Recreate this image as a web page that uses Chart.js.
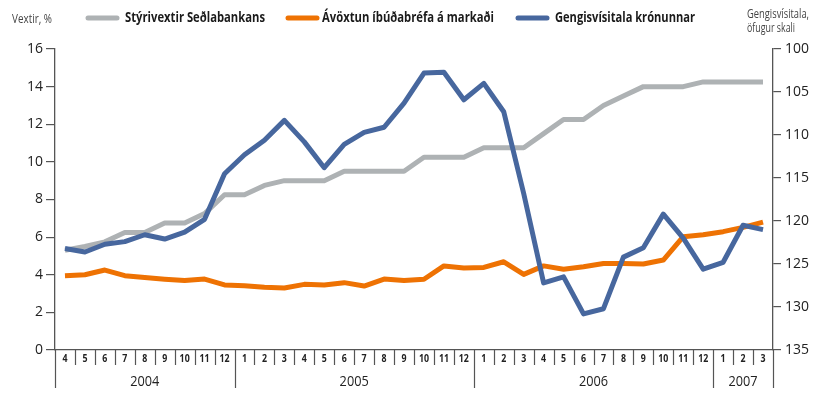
<!DOCTYPE html>
<html>
<head>
<meta charset="utf-8">
<script src="https://cdn.jsdelivr.net/npm/chart.js@4"></script>
<style>
html,body{margin:0;padding:0;background:#fff;}
#wrap{width:813px;height:410px;position:relative;}
</style>
</head>
<body>
<div id="wrap"><canvas id="c" width="813" height="410"></canvas></div>
<script>
// ---- Data ----
const months = ['4','5','6','7','8','9','10','11','12',
  '1','2','3','4','5','6','7','8','9','10','11','12',
  '1','2','3','4','5','6','7','8','9','10','11','12',
  '1','2','3'];
const years = ['2004','2005','2006','2007'];
const yearStart = [0, 9, 21, 33];

const policyRate = [5.3,5.5,5.75,6.25,6.25,6.75,6.75,7.25,8.25,
  8.25,8.75,9.0,9.0,9.0,9.5,9.5,9.5,9.5,10.25,10.25,10.25,
  10.75,10.75,10.75,11.5,12.25,12.25,13.0,13.5,14.0,14.0,14.0,14.25,
  14.25,14.25,14.25];
const bondYield = [3.95,4.0,4.25,3.95,3.85,3.76,3.69,3.77,3.46,
  3.42,3.33,3.30,3.49,3.46,3.58,3.40,3.77,3.69,3.76,4.47,4.36,
  4.39,4.69,4.02,4.47,4.29,4.43,4.6,4.6,4.57,4.78,6.02,6.13,
  6.29,6.52,6.80];
const exchangeIndex = [123.2,123.6,122.7,122.4,121.6,122.1,121.3,119.8,114.5,
  112.3,110.6,108.3,110.8,113.8,111.1,109.7,109.1,106.3,102.8,102.7,105.9,
  104.0,107.3,116.8,127.2,126.5,130.8,130.2,124.2,123.1,119.2,122.0,125.6,
  124.8,120.5,121.0];

const seriesNames = ['Stýrivextir Seðlabankans','Ávöxtun íbúðabréfa á markaði','Gengisvísitala krónunnar'];
const leftTitle = 'Vextir, %';
const rightTitle = ['Gengisvísitala,','öfugur skali'];

const GREY = '#aeb2b4', ORANGE = '#ee7203', BLUE = '#47679e';
const AXIS = '#555555';
const FONT = '"Open Sans","Liberation Sans",sans-serif';

// draw text squeezed horizontally to a given width (condensed look)
function fitText(ctx, text, x, y, width) {
  const w = ctx.measureText(text).width;
  const s = Math.min(1, width / w);
  ctx.save();
  ctx.translate(x, y);
  ctx.scale(s, 1);
  ctx.fillText(text, 0, 0);
  ctx.restore();
}
function condCenter(ctx, text, x, y, squeeze) {
  ctx.save();
  ctx.translate(x, y);
  ctx.scale(squeeze, 1);
  ctx.textAlign = 'center';
  ctx.fillText(text, 0, 0);
  ctx.restore();
}

const decor = {
  id: 'decor',
  afterDraw(chart) {
    const ctx = chart.ctx;
    const xs = chart.scales.x;
    const area = chart.chartArea;
    const n = months.length;
    const step = (xs.getPixelForValue(1) - xs.getPixelForValue(0));
    const edge = i => xs.getPixelForValue(i) - step / 2;
    ctx.save();
    ctx.strokeStyle = AXIS;
    ctx.lineWidth = 1.2;
    for (let i = 0; i <= n; i++) {
      const x = Math.round(edge(i)) + 0.5;
      const isYear = i === 0 || i === n || yearStart.includes(i);
      ctx.beginPath();
      ctx.moveTo(x, area.bottom);
      ctx.lineTo(x, area.bottom + (isYear ? 38 : 15));
      ctx.stroke();
    }
    ctx.fillStyle = '#222';
    ctx.textBaseline = 'middle';
    ctx.font = 'bold 11px ' + FONT;
    for (let i = 0; i < n; i++) {
      condCenter(ctx, months[i], xs.getPixelForValue(i), area.bottom + 8.5, 0.8);
    }
    ctx.font = '15px ' + FONT;
    for (let k = 0; k < years.length; k++) {
      const a = yearStart[k];
      const b = (k + 1 < years.length ? yearStart[k + 1] : n);
      const cx = (edge(a) + edge(b)) / 2;
      condCenter(ctx, years[k], cx, area.bottom + 32, 0.85);
    }
    ctx.fillStyle = '#444';
    ctx.textAlign = 'left';
    ctx.font = '12.5px ' + FONT;
    fitText(ctx, leftTitle, 12, 19, 40);
    ctx.font = '12px ' + FONT;
    fitText(ctx, rightTitle[0], 747, 15, 62);
    fitText(ctx, rightTitle[1], 747, 29, 48);
    const items = [
      {name: seriesNames[0], color: GREY, x: 85, tx: 125, w: 140},
      {name: seriesNames[1], color: ORANGE, x: 285, tx: 322, w: 172},
      {name: seriesNames[2], color: BLUE, x: 515, tx: 555, w: 140}
    ];
    ctx.font = 'bold 14px ' + FONT;
    ctx.lineCap = 'round';
    items.forEach(it => {
      ctx.strokeStyle = it.color;
      ctx.lineWidth = 5;
      ctx.beginPath();
      ctx.moveTo(it.x + 3, 18);
      ctx.lineTo(it.x + 32, 18);
      ctx.stroke();
      ctx.fillStyle = '#1a1a1a';
      fitText(ctx, it.name, it.tx, 18, it.w);
    });
    ctx.restore();
  }
};

new Chart(document.getElementById('c'), {
  type: 'line',
  data: {
    labels: months,
    datasets: [
      {label: seriesNames[2], data: exchangeIndex, yAxisID: 'y1', borderColor: BLUE, order: 0},
      {label: seriesNames[1], data: bondYield, yAxisID: 'y', borderColor: ORANGE, order: 1},
      {label: seriesNames[0], data: policyRate, yAxisID: 'y', borderColor: GREY, order: 2}
    ]
  },
  options: {
    responsive: false,
    animation: false,
    devicePixelRatio: 1,
    layout: {padding: {top: 49, left: 0, right: 0, bottom: 0}},
    elements: {
      line: {borderWidth: 5, tension: 0, borderJoinStyle: 'round', fill: false},
      point: {radius: 0, hoverRadius: 0}
    },
    plugins: {legend: {display: false}, tooltip: {enabled: false}},
    scales: {
      x: {
        type: 'category',
        offset: true,
        grid: {display: false, drawOnChartArea: false},
        border: {display: true, color: AXIS, width: 1.3},
        ticks: {display: false},
        afterFit(s) { s.height = 60; }
      },
      y: {
        position: 'left',
        min: 0, max: 16,
        ticks: {stepSize: 2, color: '#222', font: {family: FONT, size: 14}, padding: 3},
        grid: {drawOnChartArea: false, drawTicks: true, tickLength: 9, color: AXIS, lineWidth: 1.2},
        border: {display: true, color: AXIS, width: 1.3},
        afterFit(s) { s.width = 55; }
      },
      y1: {
        position: 'right',
        reverse: true,
        min: 100, max: 135,
        ticks: {stepSize: 5, color: '#222', font: {family: FONT, size: 14}, padding: 4},
        grid: {drawOnChartArea: false, drawTicks: true, tickLength: 8, color: AXIS, lineWidth: 1.2},
        border: {display: true, color: AXIS, width: 1.3},
        afterFit(s) { s.width = 40; }
      }
    }
  },
  plugins: [decor]
});
</script>
</body>
</html>
